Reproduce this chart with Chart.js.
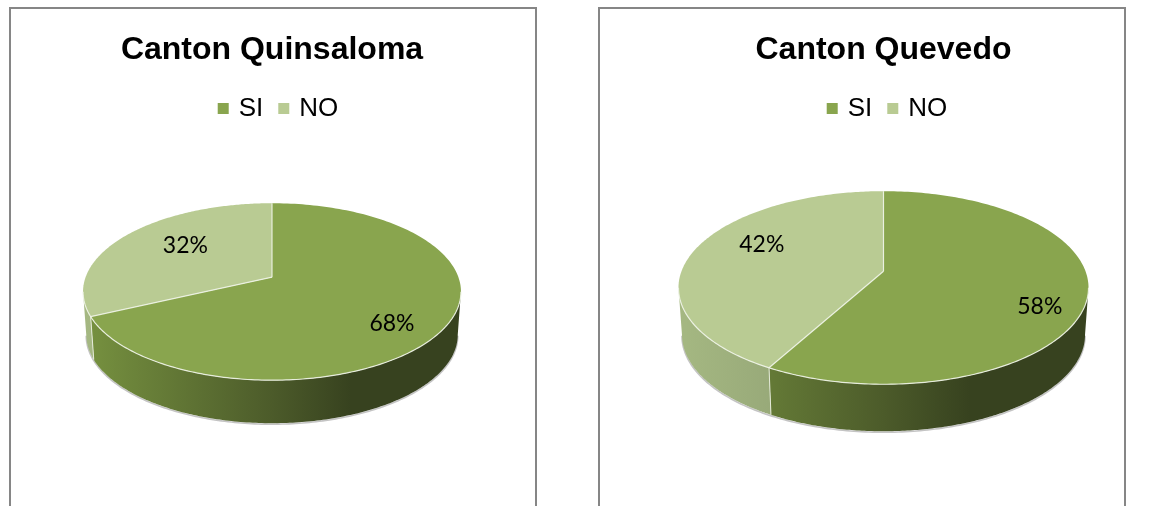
<!DOCTYPE html>
<html>
<head>
<meta charset="utf-8">
<script src="https://cdn.jsdelivr.net/npm/chart.js@4"></script>
<style>
html,body{margin:0;padding:0;background:#fff;width:1171px;height:506px;overflow:hidden}
.panel{position:absolute;top:6.5px;width:524px;height:520px;border:2px solid #868686;box-sizing:content-box;background:#fff}
.panel canvas{position:absolute;left:-1px;top:-1px}
#p1{left:9px}
#p2{left:598px}
</style>
</head>
<body>
<div class="panel" id="p1"><canvas id="c1" width="525" height="499"></canvas></div>
<div class="panel" id="p2"><canvas id="c2" width="525" height="499"></canvas></div>
<script>
const categories = ['SI', 'NO'];
const quinsalomaValues = [68, 32];
const quevedoValues = [58, 42];
const topColors = ['#89A54E', '#B9CB93'];

const wallStops = [
  [[0, '#779240'], [0.5, '#4C5B2A'], [0.71, '#37421F'], [1, '#37421F']],
  [[0, '#A5B882'], [0.45, '#8B9B70'], [1, '#7F8E66']]
];

const pie3d = {
  id: 'pie3d',
  afterLayout(chart, args, o) {
    chart.legend.left += o.legendShift;
    chart.legend.right += o.legendShift;
  },
  beforeDatasetsDraw(chart, args, o) {
    const ctx = chart.ctx;
    const arcs = chart.getDatasetMeta(0).data;
    const cx = arcs[0].x, cy = arcs[0].y, R = arcs[0].outerRadius;
    const Ky = R * o.squash, p = o.perspective, d = o.depth, sb = o.bottomScale;
    const top = (a, t = 1) => {
      const k = t / (1 - p * t * Math.sin(a));
      return [cx + R * k * Math.cos(a), cy + Ky * k * Math.sin(a)];
    };
    const bot = a => {
      const q = top(a);
      return [cx + (q[0] - cx) * sb, q[1] + d];
    };
    const W = R / Math.sqrt(1 - p * p);
    const steps = 180;
    const trace = (f, a0, a1, first) => {
      for (let i = 0; i <= steps; i++) {
        const q = f(a0 + (a1 - a0) * i / steps);
        if (i === 0 && first) ctx.moveTo(q[0], q[1]); else ctx.lineTo(q[0], q[1]);
      }
    };
    // the near side of the rim runs between the two widest points of the outline
    const nearStart = Math.asin(p), nearEnd = Math.PI - nearStart;
    ctx.save();

    // soft rim below the base
    ctx.beginPath();
    for (let i = 0; i <= steps; i++) {
      const q = bot(nearStart + (nearEnd - nearStart) * i / steps);
      if (i === 0) ctx.moveTo(q[0], q[1] + 1); else ctx.lineTo(q[0], q[1] + 1);
    }
    ctx.strokeStyle = '#C4C4C4';
    ctx.lineWidth = 1.6;
    ctx.stroke();

    // side walls
    arcs.forEach((el, i) => {
      const s = Math.max(el.startAngle, nearStart), e = Math.min(el.endAngle, nearEnd);
      if (s >= e) return;
      const g = ctx.createLinearGradient(cx - W, 0, cx + W, 0);
      wallStops[i].forEach(c => g.addColorStop(c[0], c[1]));
      ctx.beginPath();
      trace(f => top(f), s, e, true);
      trace(bot, e, s, false);
      ctx.closePath();
      ctx.fillStyle = g;
      ctx.fill();
    });
    // wall seams on the visible near side
    arcs.forEach(el => {
      const a = el.startAngle;
      if (a > nearStart && a < nearEnd) {
        const q0 = top(a), q1 = bot(a);
        ctx.beginPath();
        ctx.moveTo(q0[0], q0[1]);
        ctx.lineTo(q1[0], q1[1]);
        ctx.strokeStyle = 'rgba(235,240,225,0.9)';
        ctx.lineWidth = 1;
        ctx.stroke();
      }
    });

    // top faces
    arcs.forEach(el => {
      ctx.beginPath();
      ctx.moveTo(cx, cy);
      trace(f => top(f), el.startAngle, el.endAngle, false);
      ctx.closePath();
      ctx.fillStyle = el.options.backgroundColor;
      ctx.fill();
    });
    // light edges: radial seams and the near rim only
    ctx.strokeStyle = 'rgba(240,244,232,0.9)';
    ctx.lineWidth = 1.2;
    ctx.lineJoin = 'round';
    arcs.forEach(el => {
      const q = top(el.startAngle);
      ctx.beginPath();
      ctx.moveTo(cx, cy);
      ctx.lineTo(q[0], q[1]);
      ctx.stroke();
    });
    ctx.beginPath();
    trace(f => top(f), nearStart, nearEnd, true);
    ctx.stroke();

    // value labels
    ctx.fillStyle = '#000';
    ctx.font = '23px Lato';
    ctx.textAlign = 'center';
    ctx.textBaseline = 'middle';
    arcs.forEach((el, i) => {
      const mid = (el.startAngle + el.endAngle) / 2;
      const q = top(mid, 0.72);
      const n = o.labelNudge[i];
      const v = chart.data.datasets[0].data[i];
      ctx.fillText(v + '%', q[0] + n[0], q[1] + n[1]);
    });
    ctx.restore();
    return false;
  }
};

function makePie(id, title, values, g) {
  new Chart(document.getElementById(id), {
    type: 'pie',
    plugins: [pie3d],
    data: {
      labels: categories,
      datasets: [{ data: values, backgroundColor: topColors, borderWidth: 0, clip: false }]
    },
    options: {
      responsive: false,
      animation: false,
      radius: g.radius,
      layout: { padding: g.padding },
      plugins: {
        tooltip: { enabled: false },
        title: {
          display: true,
          text: title,
          color: '#000',
          font: { family: '"Liberation Sans"', size: 32, weight: 'bold' },
          padding: { top: 23, bottom: 8 }
        },
        legend: {
          position: 'top',
          labels: {
            usePointStyle: true,
            pointStyle: 'rect',
            boxWidth: 5,
            boxHeight: 11,
            padding: 18,
            color: '#000',
            font: { family: '"Liberation Sans"', size: 26 }
          }
        },
        pie3d: {
          squash: g.squash,
          perspective: g.perspective,
          depth: g.depth,
          bottomScale: 0.983,
          labelNudge: g.labelNudge,
          legendShift: g.legendShift
        }
      }
    }
  });
}

makePie('c1', 'Canton Quinsaloma', quinsalomaValues, {
  radius: 186.4, squash: 0.462, perspective: 0.164, depth: 43, legendShift: 7.5,
  padding: { left: 0, right: 1, top: 0, bottom: 84 },
  labelNudge: [[-1, 11], [20, 0]]
});
makePie('c2', 'Canton Quevedo', quevedoValues, {
  radius: 202, squash: 0.464, perspective: 0.171, depth: 47, legendShift: 5,
  padding: { left: 44, right: 0, top: 0, bottom: 96 },
  labelNudge: [[11, 18], [15, -10]]
});
</script>
</body>
</html>
